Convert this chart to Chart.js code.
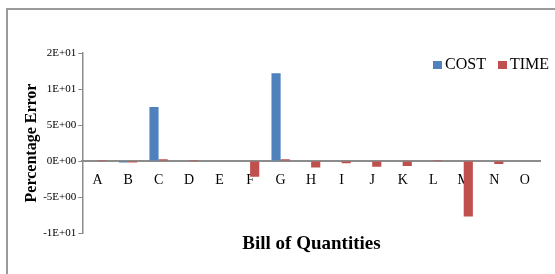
<!DOCTYPE html>
<html>
<head>
<meta charset="utf-8">
<script src="https://cdn.jsdelivr.net/npm/chart.js@4"></script>
<style>
    html, body { margin: 0; padding: 0; background: #fff; }
    #wrap { position: relative; width: 555px; height: 274px; overflow: hidden; }
    #frame { position: absolute; left: 6px; top: 8px; width: 600px; height: 300px;
             border-top: 2px solid #9a9a9a; border-left: 2px solid #9a9a9a; }
    #xtitle { position: absolute; left: 83px; width: 457px; top: 232px; text-align: center;
              font-family: "Liberation Serif", serif; font-weight: bold; font-size: 19px; color: #000; }
    #legend { position: absolute; left: 433px; top: 55px; font-family: "Liberation Serif", serif;
              font-size: 16px; color: #000; white-space: nowrap; }
    #legend span.item { margin-right: 12px; }
    #legend span.box { display: inline-block; width: 9px; height: 8px; margin-right: 3px; }
    canvas { position: absolute; left: 0; top: 0; }
</style>
</head>
<body>
<div id="wrap">
    <div id="frame"></div>
    <canvas id="errChart" width="555" height="274"></canvas>
    <div id="xtitle">Bill of Quantities</div>
    <div id="legend"></div>
</div>
<script>
var categories = ['A', 'B', 'C', 'D', 'E', 'F', 'G', 'H', 'I', 'J', 'K', 'L', 'M', 'N', 'O'];
var costValues = [0, -0.2, 7.5, 0, 0, 0, 12.2, 0, 0, 0, 0, 0, 0, 0, 0];
var timeValues = [0.15, -0.2, 0.25, 0.15, 0, -2.2, 0.25, -0.9, -0.3, -0.8, -0.7, 0.15, -7.7, -0.4, 0];

// Excel style "0E+00" number format (15 rounds to 2E+01)
function sciLabel(v) {
    if (v === 0) return '0E+00';
    var exp = Math.floor(Math.log10(Math.abs(v)));
    var mant = Math.round(v / Math.pow(10, exp));
    var sign = exp < 0 ? '-' : '+';
    var e = Math.abs(exp);
    return mant + 'E' + sign + (e < 10 ? '0' + e : e);
}

document.addEventListener('DOMContentLoaded', function() {
    var ctx = document.getElementById('errChart').getContext('2d');
    var chart = new Chart(ctx, {
        type: 'bar',
        data: {
            labels: categories,
            datasets: [
                {
                    label: 'COST',
                    data: costValues,
                    backgroundColor: '#4F81BD',
                    categoryPercentage: 0.6,
                    barPercentage: 1.0
                },
                {
                    label: 'TIME',
                    data: timeValues,
                    backgroundColor: '#C0504D',
                    categoryPercentage: 0.6,
                    barPercentage: 1.0
                }
            ]
        },
        options: {
            responsive: false,
            animation: false,
            layout: {
                padding: { left: 22, right: 15, top: 53, bottom: 41 }
            },
            scales: {
                x: {
                    position: { y: 0 },
                    grid: { display: false },
                    border: { color: '#8c8c8c', width: 2 },
                    ticks: {
                        padding: 3,
                        color: '#000',
                        font: { family: 'Liberation Serif', size: 14 }
                    }
                },
                y: {
                    min: -10,
                    max: 15,
                    grid: { drawOnChartArea: false, tickLength: 4, color: '#8c8c8c' },
                    border: { color: '#8c8c8c', width: 1.5 },
                    ticks: {
                        stepSize: 5,
                        padding: 2,
                        color: '#000',
                        font: { family: 'Liberation Serif', size: 11 },
                        callback: function(value) {
                            return sciLabel(value);
                        }
                    },
                    title: {
                        display: true,
                        text: 'Percentage Error',
                        color: '#000',
                        padding: { top: 0, bottom: 0 },
                        font: { family: 'Liberation Serif', size: 16, weight: 'bold' }
                    }
                }
            },
            plugins: {
                legend: { display: false },
                tooltip: { enabled: false }
            }
        }
    });

    // legend built from the chart's datasets
    var legend = document.getElementById('legend');
    chart.data.datasets.forEach(function(ds) {
        var item = document.createElement('span');
        item.className = 'item';
        item.innerHTML = '<span class="box" style="background:' + ds.backgroundColor + '"></span>' + ds.label;
        legend.appendChild(item);
    });
});
</script>
</body>
</html>
